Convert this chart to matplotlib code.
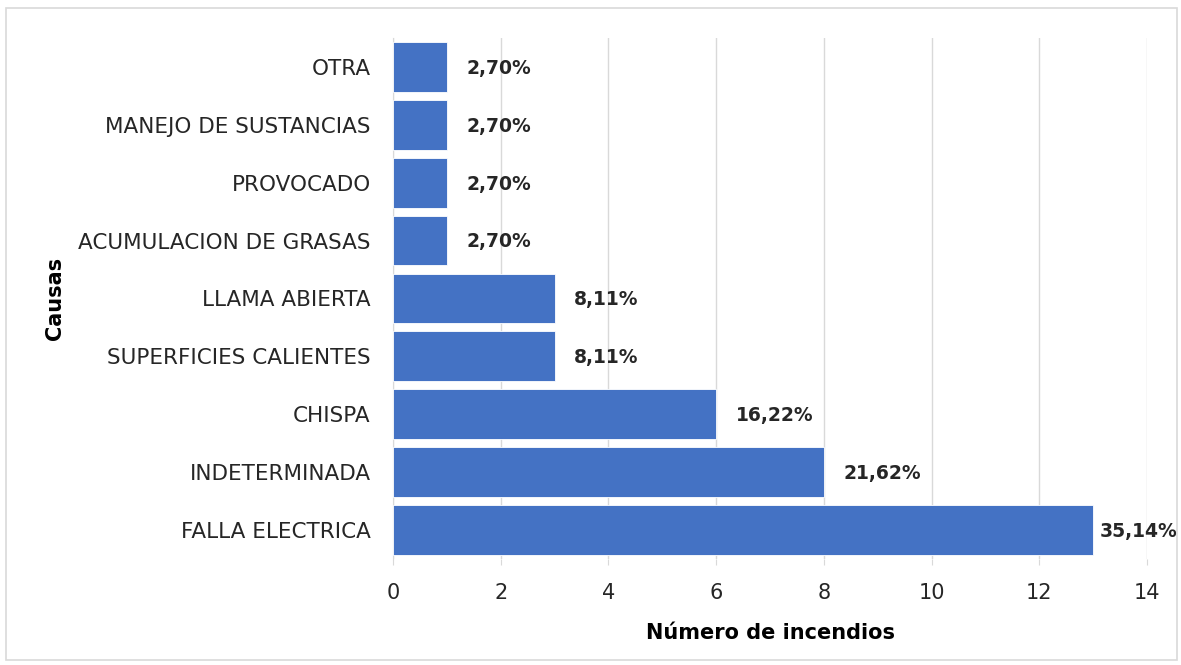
import matplotlib

matplotlib.use("Agg")
import matplotlib.pyplot as plt  # noqa: E402
from matplotlib.patches import Rectangle  # noqa: E402

causas = ["FALLA ELECTRICA", "INDETERMINADA", "CHISPA", "SUPERFICIES CALIENTES",
          "LLAMA ABIERTA", "ACUMULACION DE GRASAS", "PROVOCADO",
          "MANEJO DE SUSTANCIAS", "OTRA"]
incendios = [13, 8, 6, 3, 3, 1, 1, 1, 1]
porcentajes = ["35,14%", "21,62%", "16,22%", "8,11%", "8,11%",
               "2,70%", "2,70%", "2,70%", "2,70%"]
x_ticks = [0, 2, 4, 6, 8, 10, 12, 14]

BAR = "#4472C4"
GRID = "#d9d9d9"
TEXT = "#262626"

plt.rcParams["font.family"] = ["DejaVu Sans"]

fig = plt.figure(figsize=(11.81, 6.65), dpi=100)
ax = fig.add_axes([0.3328, 0.1594, 0.9712 - 0.3328, 0.9429 - 0.1594])

ypos = list(range(len(causas)))
ax.barh(ypos, incendios, height=0.86, color=BAR, edgecolor="white",
        linewidth=0.6, zorder=3)
for y, v, p in zip(ypos, incendios, porcentajes):
    # Excel pushes the label of the longest bar back so it stays in the chart
    dx = 5 if v > 12 else 14
    ax.annotate(p, (v, y), xytext=(dx, -1), textcoords="offset points",
                ha="left", va="center", fontsize=13.5, fontweight="bold",
                color=TEXT)

ax.set_xlim(0, 14)
ax.set_ylim(-0.5, len(causas) - 0.5)
ax.set_xticks(x_ticks)
ax.set_yticks(ypos)
ax.set_yticklabels(causas)
ax.grid(axis="x", color=GRID, linewidth=1.0, zorder=0)
ax.tick_params(axis="y", length=0, pad=16, labelsize=15.5, labelcolor=TEXT)
ax.tick_params(axis="x", length=4, color=GRID, pad=13.5, labelsize=15,
               labelcolor=TEXT)
for side in ("top", "right", "bottom"):
    ax.spines[side].set_visible(False)
ax.spines["left"].set_color(GRID)

ax.set_xlabel("Número de incendios", fontsize=15, fontweight="bold",
              color="black", labelpad=14)
ax.set_ylabel("Causas", fontsize=15, fontweight="bold", color="black")
ax.yaxis.set_label_coords(-0.435, 0.5)

fig.patches.append(Rectangle((6 / 1181, 5 / 665), 1171 / 1181, 652 / 665,
                             transform=fig.transFigure, fill=False,
                             edgecolor="#d9d9d9", linewidth=1.2))

fig.savefig("out.png", dpi=100)
